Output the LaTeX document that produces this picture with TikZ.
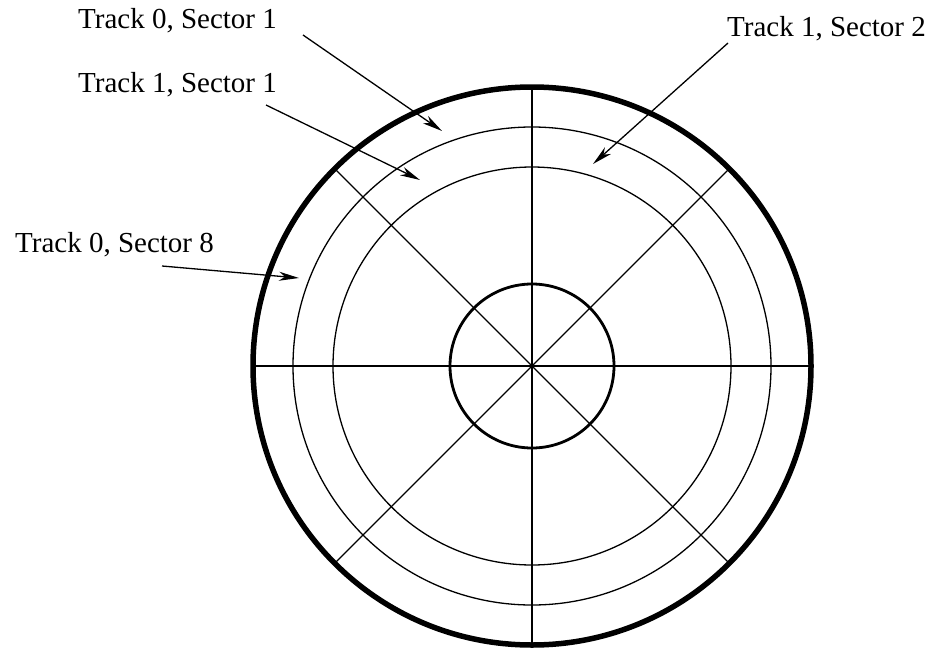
\documentclass[tikz,border=0pt]{standalone}
\usepackage{fontspec}
\setmainfont{Liberation Serif}
\usetikzlibrary{arrows.meta,calc}
\begin{document}
\begin{tikzpicture}[x=1pt,y=-1pt,
  thinline/.style={line width=1.3pt},
  label/.style={anchor=base west,inner sep=0pt,font=\fontsize{29}{34}\selectfont},
  pointer/.style={line width=1.3pt,-{Stealth[length=20pt,width=9pt,inset=6pt]}}]
\useasboundingbox (0,0) rectangle (929,648);
\coordinate (c) at (532,366);
% spokes
\draw[thinline] ($(c)+(0,-279)$) coordinate (t) -- ($(c)+(0,279)$) coordinate (b);
\draw[thinline] ($(c)+(-279,0)$) coordinate (l) -- ($(c)+(279,0)$) coordinate (r);
\draw[thinline] ($(c)+(-197.3,-197.3)$) coordinate (ul) -- ($(c)+(197.3,197.3)$) coordinate (lr);
\draw[thinline] ($(c)+(197.3,-197.3)$) coordinate (ur) -- ($(c)+(-197.3,197.3)$) coordinate (ll);
% circles
\draw[line width=5.5pt] (c) circle[radius=279pt];
\draw[thinline] (c) circle[radius=239pt];
\draw[thinline] (c) circle[radius=199pt];
\draw[line width=2.8pt] (c) circle[radius=82pt];
% labels
\node[label] (l01) at (78,28) {Track 0, Sector 1};
\node[label] (l11) at (78,92) {Track 1, Sector 1};
\node[label] (l12) at (727,36) {Track 1, Sector 2};
\node[label] (l08) at (15,252) {Track 0, Sector 8};
% arrows
\coordinate (s01) at (303,35);  \coordinate (e01) at (442,131);
\coordinate (s11) at (266,105); \coordinate (e11) at (420,180);
\coordinate (s12) at (728,43);  \coordinate (e12) at (593,164);
\coordinate (s08) at (162,266); \coordinate (e08) at (299,278);
\draw[pointer] (s01) -- (e01);
\draw[pointer] (s11) -- (e11);
\draw[pointer] (s12) -- (e12);
\draw[pointer] (s08) -- (e08);
\end{tikzpicture}
\end{document}
